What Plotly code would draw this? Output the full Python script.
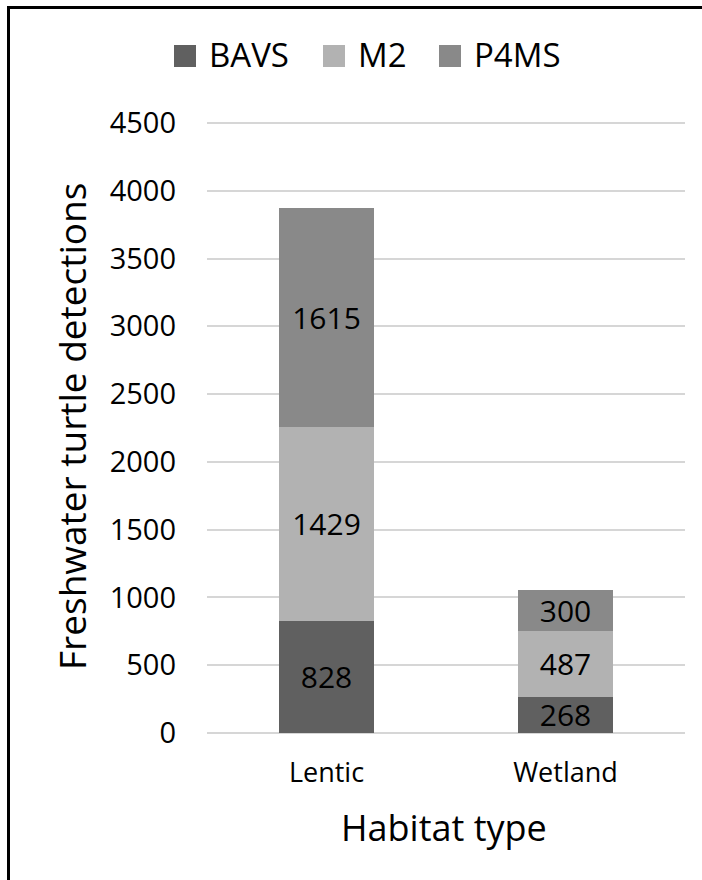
import plotly.graph_objects as go

# Data
habitats = ["Lentic", "Wetland"]
series_names = ["BAVS", "M2", "P4MS"]
bavs = [828, 268]
m2 = [1429, 487]
p4ms = [1615, 300]
y_ticks = [0, 500, 1000, 1500, 2000, 2500, 3000, 3500, 4000, 4500]

colors = ["#606060", "#b2b2b2", "#898989"]
FONT = "Open Sans"

W, H = 702, 880
ML, MR, MT, MB = 207, 17, 118, 147
PW = W - ML - MR
PH = H - MT - MB
# 4500 sits 5px below the top of the plot area, so its gridline is kept
Y_MAX = 4500 * PH / (PH - 5)


def px_x(x):
    return (x - ML) / PW


def px_y(y):
    return (H - MB - y) / PH


fig = go.Figure()
for name, vals, col in zip(series_names, [bavs, m2, p4ms], colors):
    fig.add_trace(go.Bar(
        x=habitats, y=vals, name=name,
        marker=dict(color=col, line=dict(width=0)),
        text=vals, texttemplate="%{y}",
        textposition="inside", insidetextanchor="middle",
        textangle=0, constraintext="none",
        textfont=dict(family=FONT, size=30, color="#000000"),
        showlegend=False,
        hoverinfo="skip",
    ))

# Legend: coloured squares followed by series names
legend_sq_x = [174, 323, 439]
shapes = []
annotations = []
for name, col, sx in zip(series_names, colors, legend_sq_x):
    shapes.append(dict(
        type="rect", xref="paper", yref="paper",
        x0=px_x(sx), x1=px_x(sx + 22), y0=px_y(67), y1=px_y(45),
        fillcolor=col, line=dict(width=0),
    ))
    annotations.append(dict(
        text=name, xref="paper", yref="paper",
        x=px_x(sx + 33), y=px_y(55), xanchor="left", yanchor="middle",
        showarrow=False, font=dict(family=FONT, size=33, color="#000000"),
    ))

# Axis titles
annotations.append(dict(
    text="Habitat type", xref="paper", yref="paper",
    x=px_x(444), y=px_y(827), xanchor="center", yanchor="middle",
    showarrow=False, font=dict(family=FONT, size=36, color="#000000"),
))
annotations.append(dict(
    text="Freshwater turtle detections", xref="paper", yref="paper",
    x=px_x(71), y=px_y(427), xanchor="center", yanchor="middle",
    textangle=-90,
    showarrow=False, font=dict(family=FONT, size=37, color="#000000"),
))

# Chart frame
shapes.append(dict(
    type="rect", xref="paper", yref="paper",
    x0=px_x(8.5), x1=px_x(W + 20), y0=px_y(H + 20), y1=px_y(7.5),
    line=dict(color="#000000", width=3), fillcolor="rgba(0,0,0,0)",
    layer="above",
))

fig.update_layout(
    width=W, height=H,
    margin=dict(l=ML, r=MR, t=MT, b=MB, pad=0),
    barmode="stack", bargap=0.6,
    plot_bgcolor="#ffffff", paper_bgcolor="#ffffff",
    font=dict(family=FONT, color="#000000"),
    shapes=shapes, annotations=annotations,
    showlegend=False,
)
fig.update_xaxes(
    showgrid=False, showline=False, zeroline=False, ticks="",
    tickfont=dict(family=FONT, size=27, color="#000000"),
    ticklabelstandoff=21,
)
fig.update_yaxes(
    range=[0, Y_MAX], tickvals=y_ticks, ticktext=[str(v) for v in y_ticks],
    showgrid=True, gridcolor="#d6d6d6", gridwidth=1.5,
    zeroline=True, zerolinecolor="#d6d6d6", zerolinewidth=1.5,
    showline=False, ticks="",
    tickfont=dict(family=FONT, size=29, color="#000000"),
    ticklabelstandoff=30,
)

fig.write_html("out.html")
